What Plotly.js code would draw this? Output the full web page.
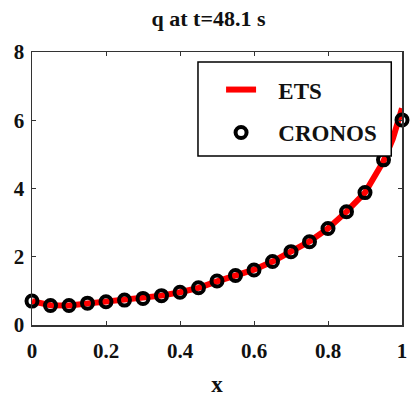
<!DOCTYPE html>
<html><head><meta charset="utf-8">
<script src="https://cdn.plot.ly/plotly-3.0.1.min.js"></script>
<style>html,body{margin:0;padding:0;background:#fff}</style>
</head><body><div id="plot" style="width:417px;height:397px"></div>
<script>
const etsX = [0,0.05,0.1,0.15,0.2,0.25,0.3,0.35,0.4,0.45,0.5,0.55,0.6,0.65,0.7,0.75,0.8,0.85,0.9,0.95,0.975,1];
const etsY = [0.70,0.58,0.57,0.63,0.68,0.73,0.78,0.86,0.96,1.09,1.28,1.45,1.62,1.86,2.15,2.45,2.83,3.32,3.88,4.80,5.45,6.35];
const cronosX = [0,0.05,0.1,0.15,0.2,0.25,0.3,0.35,0.4,0.45,0.5,0.55,0.6,0.65,0.7,0.75,0.8,0.85,0.9,0.95,1];
const cronosY = [0.70,0.57,0.57,0.64,0.68,0.73,0.78,0.86,0.96,1.09,1.29,1.45,1.61,1.86,2.15,2.44,2.83,3.32,3.88,4.84,6.01];
const xTicks = [0,0.2,0.4,0.6,0.8,1];
const xTickText = ['0','0.2','0.4','0.6','0.8','1'];
const yTicks = [0,2,4,6,8];
const seriesNames = ['ETS', 'CRONOS'];

const font = 'Liberation Serif, Times New Roman, serif';
const pad = '\u00a0\u00a0\u00a0';
const data = [
  {x: etsX, y: etsY, name: pad + seriesNames[0], mode: 'lines', line: {color: '#ff0000', width: 6}, legendgroup: 'a'},
  {x: cronosX, y: cronosY, name: pad + seriesNames[1], mode: 'markers', legendgroup: 'b', cliponaxis: false,
   marker: {symbol: 'circle-open', size: 11, color: '#000', line: {color: '#000', width: 4}}}
];
const axisCommon = {
  showgrid: false, zeroline: false, showline: true, linecolor: '#333', linewidth: 1.5,
  mirror: 'ticks', ticks: 'inside', ticklen: 4, tickcolor: '#333',
  tickfont: {family: font, size: 21, color: '#111', weight: 'bold'}
};
const layout = {
  width: 417, height: 397,
  margin: {l: 32, r: 15, t: 52, b: 72},
  paper_bgcolor: '#fff', plot_bgcolor: '#fff',
  title: {text: 'q at t=48.1 s', x: 0.5, xanchor: 'center', y: 0.953, yanchor: 'middle',
          font: {family: font, size: 22, color: '#111', weight: 'bold'}},
  xaxis: Object.assign({}, axisCommon, {range: [0, 1], tickvals: xTicks, ticktext: xTickText,
          ticklabelstandoff: 6,
          title: {text: 'x', standoff: 14, font: {family: font, size: 23, color: '#111', weight: 'bold'}}}),
  yaxis: Object.assign({}, axisCommon, {range: [0, 8], tickvals: yTicks, ticklabelstandoff: 2}),
  shapes: [{type: 'rect', xref: 'paper', yref: 'paper', x0: 0.4486, x1: 0.971, y0: 0.619, y1: 0.963,
            line: {color: '#000', width: 1.5}, fillcolor: '#fff', layer: 'above'}],
  showlegend: true,
  legend: {x: 0.511, y: 0.941, xanchor: 'left', yanchor: 'top', bgcolor: 'rgba(0,0,0,0)',
           borderwidth: 0, tracegroupgap: 10,
           font: {family: font, size: 23, color: '#111', weight: 'bold'}}
};
Plotly.newPlot('plot', data, layout, {displayModeBar: false, staticPlot: true});
</script></body></html>
